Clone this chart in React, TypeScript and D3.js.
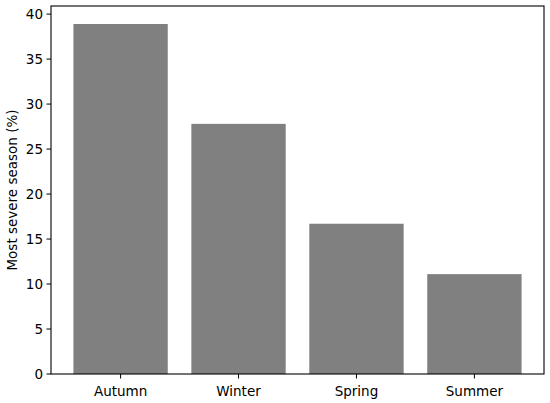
import React from "react";
import * as d3 from "d3";

const categories = ["Autumn", "Winter", "Spring", "Summer"];
const values = [38.9, 27.8, 16.7, 11.1];
const yTicks = [0, 5, 10, 15, 20, 25, 30, 35, 40];
const yLabel = "Most severe season (%)";

export default function App() {
  const W = 550, H = 403;
  const left = 51, right = 544, top = 6, bottom = 374;
  const x = d3.scaleLinear().domain([-0.59, 3.59]).range([left, right]);
  const y = d3.scaleLinear().domain([0, 40.9]).range([bottom, top]);
  const bw = x(0.4) - x(-0.4);
  const font = "DejaVu Sans, sans-serif";
  const fs = 13.5;
  return (
    <svg width={W} height={H} style={{ position: "absolute", left: 0, top: 0, background: "#fff" }}>
      {values.map((v, i) => (
        <rect key={i} x={x(i) - bw / 2} y={y(v)} width={bw} height={y(0) - y(v)} fill="#808080" />
      ))}
      <rect x={left} y={top} width={right - left} height={bottom - top} fill="none" stroke="#000" strokeWidth={1.1} />
      {yTicks.map((t) => (
        <g key={t}>
          <line x1={left - 4.5} x2={left} y1={y(t)} y2={y(t)} stroke="#000" strokeWidth={1} />
          <text x={left - 8} y={y(t)} dy="0.36em" textAnchor="end" fontSize={fs} fontFamily={font} fill="#000">{t}</text>
        </g>
      ))}
      {categories.map((c, i) => (
        <g key={c}>
          <line x1={x(i)} x2={x(i)} y1={bottom} y2={bottom + 4.5} stroke="#000" strokeWidth={1} />
          <text x={x(i)} y={bottom + 22} textAnchor="middle" fontSize={fs} fontFamily={font} fill="#000">{c}</text>
        </g>
      ))}
      <text transform={`translate(16.5, ${(top + bottom) / 2}) rotate(-90)`} textAnchor="middle" fontSize={fs} fontFamily={font} fill="#000">{yLabel}</text>
    </svg>
  );
}
